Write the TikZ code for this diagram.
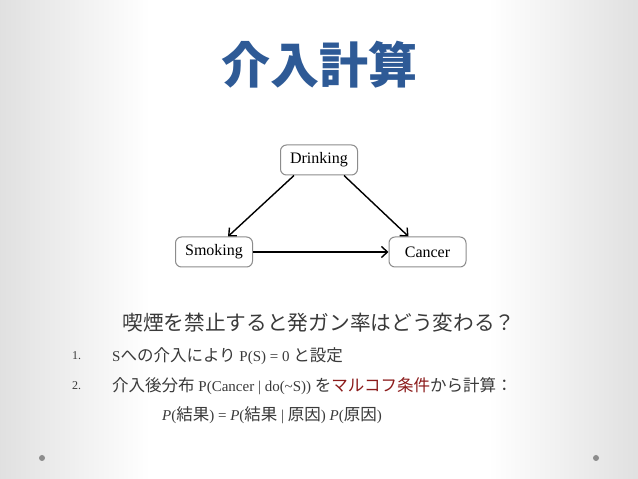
\documentclass[tikz,border=0pt]{standalone}
\usepackage{fontspec}
\setmainfont{Liberation Serif}
\newfontfamily\jp{Noto Sans CJK JP}
\newcommand\jt[1]{{\jp\fontsize{16.5}{20}\selectfont #1}}
\usepackage{tikz}
\usetikzlibrary{arrows,arrows.meta,positioning}

\definecolor{titleblue}{HTML}{2E5A96}
\definecolor{textgray}{HTML}{3A3A3A}
\definecolor{markred}{HTML}{8B1A1A}
\definecolor{boxgray}{HTML}{8C8C8C}

\begin{document}
\begin{tikzpicture}[x=1pt,y=1pt,>={Straight Barb[length=6pt,width=11pt]},on grid,
                    every node/.style={text=textgray,inner sep=0pt},
                    var/.style={draw=boxgray,fill=white,rounded corners=6pt,line width=1pt,
                                minimum width=77pt,minimum height=30pt,text=black,
                                font=\fontsize{16}{18}\selectfont},
                    item/.style={anchor=west,font=\fontsize{15}{18}\selectfont}]
%  background of the slide
  \useasboundingbox (0,0) rectangle (638,479);
  \fill[white] (0,0) rectangle (638,479);
  \shade[left color=gray!24,right color=white] (0,0) rectangle (150,479);
  \shade[left color=white,right color=gray!24] (488,0) rectangle (638,479);
  \fill[boxgray] (42,21) circle (3);
  \fill[boxgray] (596,21) circle (3);

  \node[font=\jp\bfseries\fontsize{49}{52}\selectfont,text=titleblue] (title) at (319,414) {介入計算};

  \node[var]         (D) at (319,319)                  {Drinking};
  \node[var]         (S) [below left=92pt and 105pt of D] {Smoking};
  \node[var]         (C) [right=213.5pt of S]           {Cancer};

  \path[->,line width=1.4pt] ([xshift=-25pt]D.south) edge ([xshift=14pt]S.north)
             ([xshift=25pt]D.south) edge ([xshift=-19pt]C.north)
             (S) edge (C);

  \node[font=\jp\fontsize{20.7}{24}\selectfont] (quest) at (319,156) {喫煙を禁止すると発ガン率はどう変わる？};

  \node[item,font=\fontsize{12}{14}\selectfont] (num1) at (72,123) {1.};
  \node[item] (item1) at (112,123) {S\jt{への介入により} P(S) = 0 \jt{と設定}};
  \node[item,font=\fontsize{12}{14}\selectfont] (num2) at (72,93) {2.};
  \node[item] (item2) at (112,93) {\jt{介入後分布} P(Cancer | do(\textasciitilde S)) \jt{を}\jt{\color{markred}マルコフ条件}\jt{から計算：}};
  \node[item] (rule) at (162,64) {\textit{P}(\jt{結果}) = \textit{P}(\jt{結果} | \jt{原因}) \textit{P}(\jt{原因})};

\end{tikzpicture}
\end{document}
